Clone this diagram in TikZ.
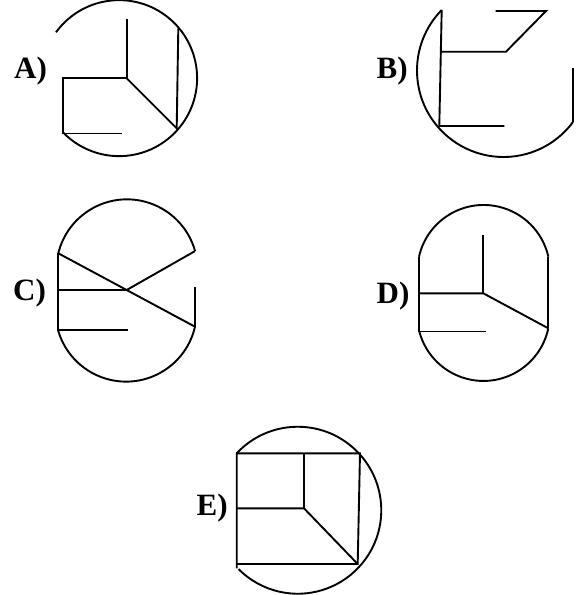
\documentclass[tikz,border=0pt]{standalone}
\usepackage{fontspec}
\setmainfont{Liberation Serif}
\tikzset{
    figline/.style={line width=1.9pt, draw=black},
    letter/.style={font=\fontsize{31}{31}\selectfont\bfseries, inner sep=0pt, anchor=base west}
}

\begin{document}
\begin{tikzpicture}[x=1pt, y=-1pt]
        \useasboundingbox (0,0) rectangle (579,595);

        % Figure A
        \node (labA) [letter] at (14,78.3) {A)};
        \coordinate (ajoin) at (126.7,78.3);
        \draw[figline] (56,32.3) arc[start angle=216, end angle=495.4, radius=78];
        \draw[figline] (126.7,19.3) -- (ajoin) -- (63.3,78.3) -- (63.3,133.5) -- (121.7,133.5);
        \draw[figline] (ajoin) -- (176.7,128.3) -- (178.3,28.3);

        % Figure B
        \node (labB) [letter] at (376.5,78.3) {B)};
        \coordinate (bjoin) at (506,51.7);
        \draw[figline] (441.7,10) arc[start angle=224.4, end angle=36.5, radius=86.5];
        \draw[figline] (441.7,10) -- (439.3,126) -- (504.3,126);
        \draw[figline] (441.7,51.7) -- (bjoin) -- (546,11) -- (495.7,11);
        \draw[figline] (572.9,68.3) -- (572.9,121.9);

        % Figure C
        \node (labC) [letter] at (13,300) {C)};
        \coordinate (cjoin) at (126.7,290);
        \draw[figline] (58.3,253.3) arc[start angle=193.7, end angle=344.5, radius=70.7];
        \draw[figline] (195,326.7) arc[start angle=12.9, end angle=164.5, radius=70.7];
        \draw[figline] (58.3,253.3) -- (58.3,330) -- (128.3,330);
        \draw[figline] (58.3,290) -- (cjoin) -- (195,251.1);
        \draw[figline] (58.3,253.3) -- (195,326.7);
        \draw[figline] (195,286.7) -- (195,326.7);

        % Figure D
        \node (labD) [letter] at (376.5,303.3) {D)};
        \coordinate (djoin) at (483.3,293.3);
        \draw[figline] (419,256.7) arc[start angle=192.7, end angle=347.3, radius=66.3];
        \draw[figline] (548.3,328.3) arc[start angle=11.9, end angle=165.3, radius=66.3];
        \draw[figline] (419,256.7) -- (419,331.5) -- (485.7,331.5);
        \draw[figline] (548.3,256.7) -- (548.3,328.3);
        \draw[figline] (483.3,235) -- (djoin);
        \draw[figline] (419,293.3) -- (djoin) -- (548.3,328.3);

        % Figure E
        \node (labE) [letter] at (196.5,515) {E)};
        \coordinate (ejoin) at (304,508.3);
        \draw[figline] (236.7,453.3) arc[start angle=223, end angle=495.2, radius=83.5];
        \draw[figline] (236.7,568.3) -- (236.7,453.3) -- (360,453.3) -- (357.7,564) -- (236.7,564);
        \draw[figline] (304,453.3) -- (ejoin);
        \draw[figline] (236.7,508.3) -- (ejoin) -- (357.7,564);
    \end{tikzpicture}
\end{document}
